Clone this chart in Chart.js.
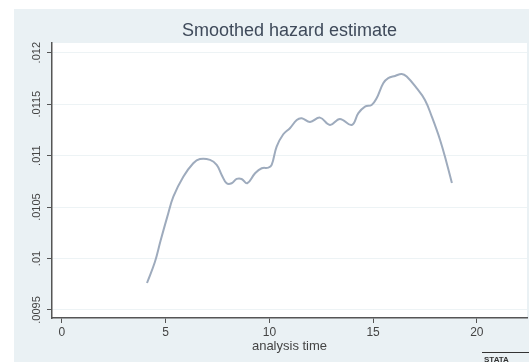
<!DOCTYPE html>
<html>
<head>
<meta charset="utf-8">
<script src="https://cdn.jsdelivr.net/npm/chart.js@4"></script>
<style>
  html, body { margin: 0; padding: 0; background: #fff; }
  #wrap { width: 529px; height: 362px; }
</style>
</head>
<body>
<div id="wrap"><canvas id="hazardChart" width="529" height="362"></canvas></div>
<script>
// analysis time vs smoothed hazard
const times = [4.10, 4.48, 4.75, 5.08, 5.37, 5.85, 6.33, 6.65, 7.14, 7.46, 7.70, 7.94, 8.18, 8.42, 8.66, 8.93,
  9.31, 9.63, 9.95, 10.11, 10.35, 10.67, 10.99, 11.32, 11.56, 11.96, 12.44, 12.92, 13.40, 13.97, 14.29, 14.61,
  14.93, 15.17, 15.49, 15.73, 16.06, 16.38, 16.62, 17.10, 17.50, 17.83, 18.23, 18.55, 18.80];
const hazard = [0.009762, 0.009966, 0.010170, 0.010407, 0.010601, 0.010795, 0.010926, 0.010967, 0.010958, 0.010909,
  0.010812, 0.010731, 0.010731, 0.010773, 0.010773, 0.010731, 0.010828, 0.010877, 0.010883, 0.010909, 0.011087,
  0.011207, 0.011266, 0.011346, 0.011363, 0.011327, 0.011369, 0.011298, 0.011356, 0.011298, 0.011412, 0.011476,
  0.011492, 0.011557, 0.011703, 0.011752, 0.011774, 0.011793, 0.011768, 0.011655, 0.011541, 0.011379, 0.011152,
  0.010926, 0.010734];
const xTicks = [0, 5, 10, 15, 20];
const yTicks = [0.0095, 0.01, 0.0105, 0.011, 0.0115, 0.012];
const yTickLabels = ['.0095', '.01', '.0105', '.011', '.0115', '.012'];

const points = times.map((t, i) => ({ x: t, y: hazard[i] }));
const fontFamily = '"Liberation Sans", Arial, sans-serif';

// stata-ish background, plot region and title
const stataFrame = {
    id: 'stataFrame',
    beforeDraw(chart) {
        const { ctx, chartArea } = chart;
        ctx.save();
        ctx.fillStyle = '#eaf1f4';
        ctx.fillRect(14, 9, chart.width - 14, chart.height - 9);
        ctx.fillStyle = '#ffffff';
        ctx.fillRect(chartArea.left, chartArea.top, chartArea.right - chartArea.left, chartArea.bottom - chartArea.top);
        ctx.restore();
    },
    afterDraw(chart) {
        const { ctx, chartArea } = chart;
        ctx.save();
        ctx.fillStyle = '#3f4a5a';
        ctx.font = '18px ' + fontFamily;
        ctx.textAlign = 'center';
        ctx.textBaseline = 'middle';
        ctx.fillText('Smoothed hazard estimate', (chartArea.left + chartArea.right) / 2, 31);
        // logo stub at the corner
        ctx.strokeStyle = '#333';
        ctx.lineWidth = 1;
        ctx.beginPath();
        ctx.moveTo(482, 352.5);
        ctx.lineTo(529, 352.5);
        ctx.stroke();
        ctx.font = 'bold 8px ' + fontFamily;
        ctx.textAlign = 'left';
        ctx.fillStyle = '#333';
        ctx.fillText('STATA', 484, 360);
        ctx.restore();
    }
};

const ctx = document.getElementById('hazardChart').getContext('2d');
new Chart(ctx, {
    type: 'line',
    data: {
        datasets: [{
            data: points,
            borderColor: '#9eabbd',
            borderWidth: 2,
            pointRadius: 0,
            tension: 0.4,
            fill: false
        }]
    },
    options: {
        responsive: false,
        animation: false,
        layout: { padding: { left: 14, top: 43, right: 2, bottom: 0 } },
        plugins: { legend: { display: false }, tooltip: { enabled: false } },
        scales: {
            x: {
                type: 'linear',
                min: -0.48,
                max: 22.42,
                afterBuildTicks: (axis) => { axis.ticks = xTicks.map(v => ({ value: v })); },
                afterFit: (axis) => { axis.height = 44; },
                border: { color: '#555', width: 1.5 },
                grid: { drawOnChartArea: false, tickLength: 5, tickColor: '#555' },
                ticks: { color: '#444', font: { size: 12, family: fontFamily }, padding: 2, maxRotation: 0 },
                title: {
                    display: true,
                    text: 'analysis time',
                    color: '#444',
                    font: { size: 13, family: fontFamily },
                    padding: { top: 0, bottom: 8 }
                }
            },
            y: {
                type: 'linear',
                min: 0.009422,
                max: 0.012094,
                afterBuildTicks: (axis) => { axis.ticks = yTicks.map(v => ({ value: v })); },
                afterFit: (axis) => { axis.width = 38; },
                border: { color: '#555', width: 1.5 },
                grid: { color: '#edf3f5', lineWidth: 1, tickLength: 5, tickColor: '#555' },
                ticks: {
                    color: '#444',
                    font: { size: 11, family: fontFamily },
                    minRotation: 90,
                    maxRotation: 90,
                    crossAlign: 'center',
                    padding: -4,
                    callback: (value) => {
                        const i = yTicks.findIndex(t => Math.abs(t - value) < 1e-9);
                        return i >= 0 ? yTickLabels[i] : '';
                    }
                }
            }
        }
    },
    plugins: [stataFrame]
});
</script>
</body>
</html>
